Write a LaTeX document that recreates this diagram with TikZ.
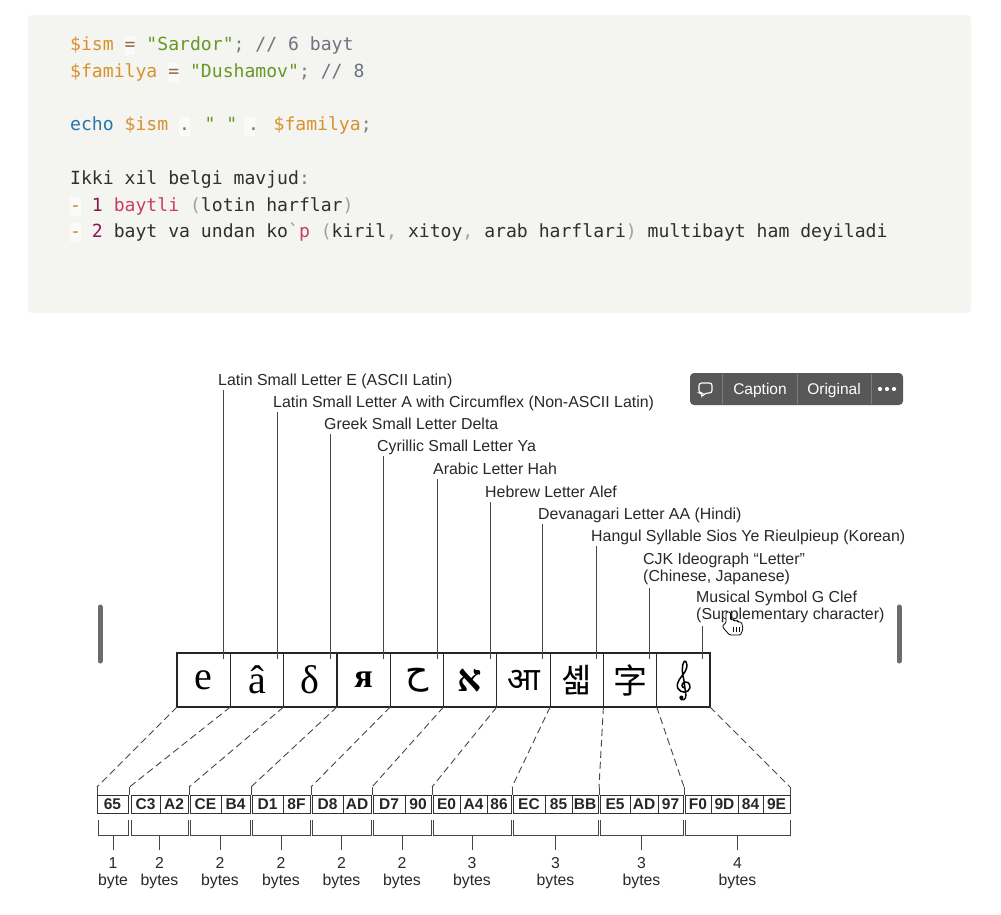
\documentclass[tikz,border=0pt]{standalone}
\usepackage{fontspec}
\setmainfont{Liberation Sans}
\newfontfamily\codefont{DejaVu Sans Mono}
\newfontfamily\chserif{Liberation Serif}
\newfontfamily\charab[Script=Arabic]{DejaVu Sans}
\newfontfamily\chheb[Script=Hebrew]{Liberation Serif}
\newfontfamily\chdev[Script=Devanagari]{Noto Sans}
\newfontfamily\chkr{Noto Sans CJK KR}
\newfontfamily\chsc{Noto Sans CJK SC}
\TeXXeTstate=1
\usetikzlibrary{calc}
\definecolor{codebg}{RGB}{244,244,241}
\definecolor{cvar}{RGB}{214,146,44}
\definecolor{copr}{RGB}{150,105,60}
\definecolor{cstr}{RGB}{104,152,38}
\definecolor{cpun}{RGB}{125,125,125}
\definecolor{ccom}{RGB}{108,116,128}
\definecolor{ckey}{RGB}{40,118,170}
\definecolor{ctxt}{RGB}{47,47,47}
\definecolor{cbul}{RGB}{192,136,60}
\definecolor{cnum}{RGB}{138,22,85}
\definecolor{cpink}{RGB}{200,64,95}
\definecolor{cparen}{RGB}{160,160,160}
\definecolor{dline}{RGB}{70,70,70}
\definecolor{dtext}{RGB}{40,40,40}
\definecolor{tbar}{RGB}{88,88,88}
\definecolor{tdiv}{RGB}{125,125,125}
\definecolor{handle}{RGB}{108,108,108}
\definecolor{hlbg}{RGB}{250,250,248}
\newcommand{\myvar}[1]{\textcolor{cvar}{#1}}
\newcommand{\myop}[1]{\textcolor{copr}{#1}}
\newcommand{\mystr}[1]{\textcolor{cstr}{#1}}
\newcommand{\mypun}[1]{\textcolor{cpun}{#1}}
\newcommand{\mycom}[1]{\textcolor{ccom}{#1}}
\newcommand{\mykey}[1]{\textcolor{ckey}{#1}}
\newcommand{\mybul}[1]{\textcolor{cbul}{#1}}
\newcommand{\mynum}[1]{\textcolor{cnum}{#1}}
\newcommand{\mypink}[1]{\textcolor{cpink}{#1}}
\newcommand{\myparen}[1]{\textcolor{cparen}{#1}}
\newcommand{\bytecell}[4]{\node[bytebox, minimum width={#2-#1}] (#4) at ({(#1+#2)/2},804) {#3};}
\newcommand{\bytegrp}[4]{%
  \coordinate (#4l) at (#1+1,820); \coordinate (#4r) at (#2-1,820);
  \coordinate (#4m) at ({(#1+#2)/2},835); \coordinate (#4t) at ({(#1+#2)/2},850);
  \draw[bracket] (#4l) -- (#4l |- #4m) -- (#4r |- #4m) -- (#4r);
  \draw[bracket] (#4m) -- (#4t);
  \node[countlab] (#4c) at ({(#1+#2)/2},885) {#3};}
\begin{document}
\begin{tikzpicture}[x=1pt,y=-1pt,
  codeline/.style={anchor=base west, inner sep=0pt, font=\codefont\fontsize{18.1}{20}\selectfont, text=ctxt},
  lab/.style={anchor=base west, inner sep=0pt, text=dtext, align=left, font=\fontsize{15.9}{17}\selectfont},
  leader/.style={draw=dline, line width=0.9pt},
  cell/.style={draw=black!85, line width=1.2pt, minimum width=53.3pt, minimum height=54pt, inner sep=0pt},
  bytebox/.style={draw=black!80, line width=1pt, minimum height=18pt, inner sep=0pt, font=\bfseries\fontsize{15.5}{16}\selectfont, text=black!85},
  bracket/.style={draw=dline, line width=0.9pt},
  dashlink/.style={draw=dline, line width=0.9pt, dash pattern=on 7pt off 4pt},
  countlab/.style={anchor=base, inner sep=0pt, align=center, text=dtext, font=\fontsize{15.8}{17}\selectfont},
  tbtext/.style={text=white, inner sep=0pt, font=\fontsize{15.5}{17}\selectfont}
]
\useasboundingbox (0,0) rectangle (1001,915);
\fill[white] (0,0) rectangle (1001,915);
% code block
\fill[codebg, rounded corners=4pt] (28,15) rectangle (971,313);
\fill[hlbg] (124.5,36) rectangle (135.4,55);
\fill[hlbg] (168.3,63) rectangle (179.2,82);
\fill[hlbg] (179,117) rectangle (189.9,136);
\fill[hlbg] (244.4,117) rectangle (255.3,136);
\fill[hlbg] (70,197) rectangle (80.9,216);
\fill[hlbg] (70,223) rectangle (80.9,242);
\node[codeline] (k1) at (70,51) {\myvar{\$ism} \myop{=} \mystr{"Sardor"}\mypun{;} \mycom{// 6 bayt}};
\node[codeline] (k2) at (70,77.5) {\myvar{\$familya} \myop{=} \mystr{"Dushamov"}\mypun{;} \mycom{// 8}};
\node[codeline] (k3) at (70,131) {\mykey{echo} \myvar{\$ism} \myop{.} \mystr{" "} \myop{.} \myvar{\$familya}\mypun{;}};
\node[codeline] (k4) at (70,184.5) {Ikki xil belgi mavjud\mypun{:}};
\node[codeline] (k5) at (70,211) {\mybul{-} \mynum{1} \mypink{baytli} \myparen{(}lotin harflar\myparen{)}};
\node[codeline] (k6) at (70,237.5) {\mybul{-} \mynum{2} bayt va undan ko\mybul{\char"60}\mypink{p} \myparen{(}kiril\myparen{,} xitoy\myparen{,} arab harflari\myparen{)} multibayt ham deyiladi};
% labels
\node[lab] (L1) at (218,385.5) {Latin Small Letter E (ASCII Latin)};
\node[lab] (L2) at (273,407.5) {Latin Small Letter A with Circumflex (Non-ASCII Latin)};
\node[lab] (L3) at (324,429.5) {Greek Small Letter Delta};
\node[lab] (L4) at (377,451.5) {Cyrillic Small Letter Ya};
\node[lab] (L5) at (433,474.5) {Arabic Letter Hah};
\node[lab] (L6) at (485,497.5) {Hebrew Letter Alef};
\node[lab] (L7) at (538,519.5) {Devanagari Letter AA (Hindi)};
\node[lab] (L8) at (591,541.5) {Hangul Syllable Sios Ye Rieulpieup (Korean)};
\node[lab] (L9) at (643,581.5) {CJK Ideograph “Letter”\\(Chinese, Japanese)};
\node[lab] (L10) at (696,619.5) {Musical Symbol G Clef\\(Supplementary character)};
% character cells
\node[cell] (C1) at (203.65,680) {\chserif\fontsize{40}{40}\selectfont e};
\node[cell] (C2) at (256.95,680) {\chserif\fontsize{40}{40}\selectfont â};
\node[cell] (C3) at (310.25,680) {\chserif\fontsize{40}{40}\selectfont δ};
\node[cell] (C4) at (363.55,680) {\chserif\bfseries\fontsize{34}{34}\selectfont я};
\node[cell] (C5) at (416.85,680) {\charab\fontsize{36}{36}\selectfont ح};
\node[cell] (C6) at (470.15,680) {\chheb\bfseries\fontsize{38}{38}\selectfont א};
\node[cell] (C7) at (523.45,680) {\chdev\fontsize{32}{32}\selectfont आ};
\node[cell] (C8) at (576.75,680) {\chkr\fontsize{33}{33}\selectfont 셻};
\node[cell] (C9) at (630.05,680) {\chsc\fontsize{34}{34}\selectfont 字};
\node[cell] (C10) at (683.35,680) {};
% treble clef drawn as a shape (no installed font has U+1D11E)
\begin{scope}[shift={(C10.center)}]
  \draw[black, line width=1.5pt, line cap=round]
    (1.5,8) .. controls (-2,8) and (-2.5,3) .. (1.5,2)
    .. controls (6.5,1) and (8.5,8) .. (4.5,11)
    .. controls (0.5,14) and (-7,11) .. (-6,4)
    .. controls (-5,-2) and (3,-7) .. (3.5,-13)
    .. controls (4,-18) and (1.5,-20) .. (0.5,-18)
    .. controls (-1.5,-15) and (-1.5,-8) .. (0.5,0)
    -- (2.5,15)
    .. controls (3.2,20) and (-2,21) .. (-3,18.5);
  \fill[black] (-2,17.5) circle (2);
\end{scope}
% leader lines
\foreach \i/\x/\y in {1/223/390,2/277/412,3/330/434,4/383/456,5/437/479,6/490/502,7/542/524,8/596/546,9/649/588,10/702/626}{
  \coordinate (lt\i) at (\x,\y);
  \coordinate (lb\i) at (\x,659);
  \draw[leader] (lt\i) -- (lb\i);
}
% byte cells
\bytecell{97}{128}{65}{b1}
\bytecell{131}{160}{C3}{b2}\bytecell{160}{188}{A2}{b3}
\bytecell{190}{221}{CE}{b4}\bytecell{221}{250}{B4}{b5}
\bytecell{252}{283}{D1}{b6}\bytecell{283}{310}{8F}{b7}
\bytecell{312}{343}{D8}{b8}\bytecell{343}{371}{AD}{b9}
\bytecell{373}{405}{D7}{b10}\bytecell{405}{431}{90}{b11}
\bytecell{433}{460}{E0}{b12}\bytecell{460}{487}{A4}{b13}\bytecell{487}{511}{86}{b14}
\bytecell{513}{545}{EC}{b15}\bytecell{545}{572}{85}{b16}\bytecell{572}{598}{BB}{b17}
\bytecell{600}{630}{E5}{b18}\bytecell{630}{658}{AD}{b19}\bytecell{658}{683}{97}{b20}
\bytecell{685}{711}{F0}{b21}\bytecell{711}{738}{9D}{b22}\bytecell{738}{763}{84}{b23}\bytecell{763}{790}{9E}{b24}
% dashed links
\foreach \i/\cx/\gx in {0/177/97,1/230.3/129.5,2/283.6/189,3/336.9/251,4/390.2/311,5/443.5/372,6/496.8/432,7/550.1/512,8/603.4/599,9/656.7/684,10/710/790}{
  \coordinate (dt\i) at (\cx,707);
  \coordinate (dm\i) at (\gx,787);
  \coordinate (db\i) at (\gx,795);
  \draw[dashlink] (dt\i) -- (dm\i);
  \draw[leader] (dm\i) -- (db\i);
}
% brackets and counts
\bytegrp{97}{129}{1\\byte}{g1}
\bytegrp{130}{189}{2\\bytes}{g2}
\bytegrp{189}{251}{2\\bytes}{g3}
\bytegrp{251}{311}{2\\bytes}{g4}
\bytegrp{311}{372}{2\\bytes}{g5}
\bytegrp{372}{432}{2\\bytes}{g6}
\bytegrp{432}{512}{3\\bytes}{g7}
\bytegrp{512}{599}{3\\bytes}{g8}
\bytegrp{599}{684}{3\\bytes}{g9}
\bytegrp{684}{791}{4\\bytes}{g10}
% toolbar
\fill[tbar, rounded corners=4pt] (690,373) rectangle (903,405);
\draw[tdiv, line width=0.8pt] (722,374) -- (722,404) (797,374) -- (797,404) (871,374) -- (871,404);
\draw[white, line width=1.1pt, rounded corners=2.5pt] (699,383) -- (712,383) -- (712,393) -- (705.5,393) -- (701.5,397) -- (702,393) -- (699,393) -- cycle;
\node[tbtext] (cap) at (760,390) {Caption};
\node[tbtext] (orig) at (834,390) {Original};
\fill[white] (880,389) circle (2.1) (887,389) circle (2.1) (894,389) circle (2.1);
% side handles
\draw[handle, line width=5pt, line cap=round] (100,607) -- (100,661);
\draw[handle, line width=5pt, line cap=round] (899,607) -- (899,661);
% cursor
\draw[fill=white, draw=black, line width=0.8pt, rounded corners=1.2pt] (726,623) -- (726,612) -- (730.5,612) -- (730.5,620) -- (734,619.5) -- (734,621) -- (737.5,620.5) -- (738,622) -- (741.5,622) -- (743,629) -- (740.5,635) -- (729.5,635) -- (722.5,627) -- (723.5,624.5) -- cycle;
\draw[black, line width=0.6pt] (733.5,627) -- (733.5,632) (736.5,627) -- (736.5,632) (739.5,627) -- (739.5,632);
\end{tikzpicture}
\end{document}
